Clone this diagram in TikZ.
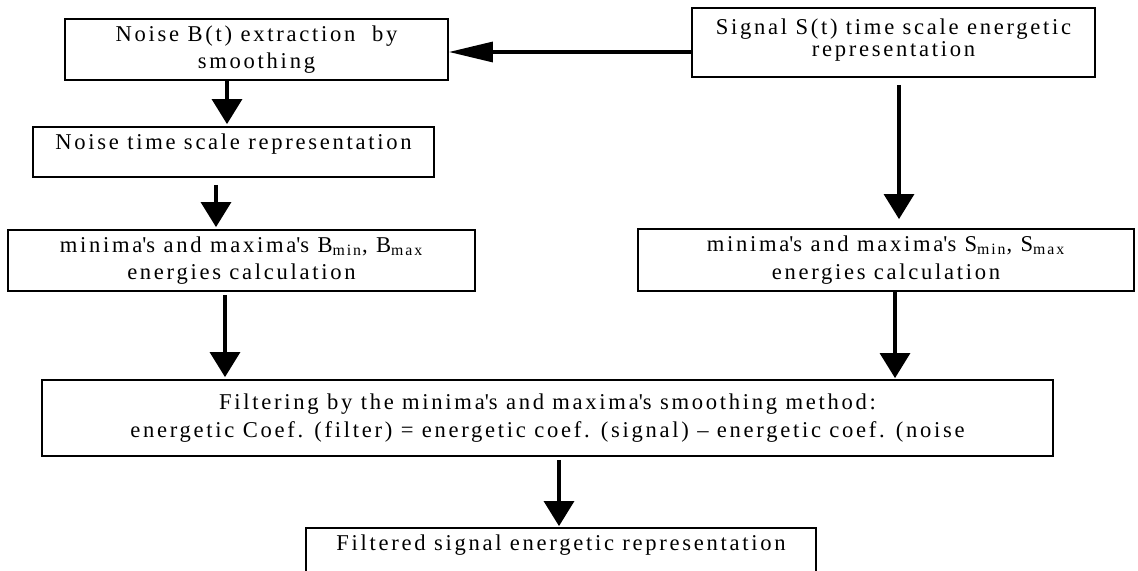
\documentclass[tikz,border=0pt]{standalone}
\usepackage{fontspec}
\setmainfont[LetterSpace=12]{Liberation Serif}
\usepackage{tikz}
\usetikzlibrary{arrows.meta}
\usetikzlibrary{positioning}

\tikzset{
	box/.style={draw, line width=0.9pt, align=center, inner sep=0pt,
		font=\fontsize{11.3}{13.8}\selectfont},
	arr/.style={-{Triangle[length=12.5pt,width=15pt]}, line width=1.6pt},
	harr/.style={-{Triangle[length=22pt,width=10pt]}, line width=1.6pt}
}

\begin{document}
\begin{tikzpicture}[x=0.5pt,y=-0.5pt]
	\clip (0,0) rectangle (1138,571);
	\node[box,minimum width=201.5pt,minimum height=34.5pt] (sig) at (893.5,42.5) {Signal S(t) time scale energetic\\[-3pt] representation\\[-8.8pt] \mbox{}};
	\node[box,minimum width=191.5pt,minimum height=30.5pt] (ext) at (256.5,49.5) {Noise B(t) extraction~ by\\ smoothing};
	\node[box,minimum width=200.5pt,minimum height=25pt,text height=8pt,text depth=10pt] (nrep) at (233.5,152) {Noise time scale representation};
	\node[box,minimum width=233.5pt,minimum height=30.5pt] (bmin) at (241.5,260.5) {minima\textquotesingle s and maxima\textquotesingle s B\textsubscript{min}, B\textsubscript{max}\\ energies calculation};
	\node[box,minimum width=248pt,minimum height=31pt] (smin) at (886,260) {minima\textquotesingle s and maxima\textquotesingle s S\textsubscript{min}, S\textsubscript{max}\\ energies calculation};
	\node[box,minimum width=505.5pt,minimum height=38pt] (filt) at (547.5,418) {Filtering by the minima\textquotesingle s and maxima\textquotesingle s smoothing method:\\ energetic Coef. (filter) = energetic coef. (signal) – energetic coef. (noise};
	\node[box,minimum width=255pt,minimum height=25pt,text height=8pt,text depth=11pt] (out) at (561,553) {Filtered signal energetic representation};

	\draw[harr] ([yshift=-4.75pt]sig.west) -- ([yshift=-1.25pt]ext.east);
	\draw[arr,shorten >=1pt] ([xshift=-14.75pt]ext.south) -- ([xshift=-3.25pt]nrep.north);
	\draw[arr,shorten <=3.5pt,shorten >=1pt] ([xshift=-8.75pt]nrep.south) -- ([xshift=-12.75pt]bmin.north);
	\draw[arr,shorten <=1.5pt,shorten >=1pt] ([xshift=-8.25pt]bmin.south) -- ([xshift=-161.25pt]filt.north);
	\draw[arr,shorten <=3.5pt,shorten >=4.5pt] ([xshift=2.75pt]sig.south) -- ([xshift=6.5pt]smin.north);
	\draw[arr,shorten >=0.5pt] ([xshift=4.5pt]smin.south) -- ([xshift=173.75pt]filt.north);
	\draw[arr,shorten <=1.5pt,shorten >=0.5pt] ([xshift=5.75pt]filt.south) -- ([xshift=-1pt]out.north);
\end{tikzpicture}
\end{document}
